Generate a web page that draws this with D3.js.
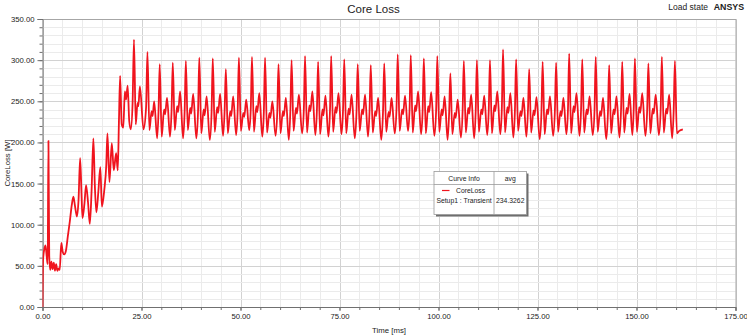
<!DOCTYPE html>
<html>
<head>
<meta charset="utf-8">
<script src="https://cdn.jsdelivr.net/npm/d3@7"></script>
<style>
body { margin: 0; background: #fff; }
text { font-family: "Liberation Sans", Arial, sans-serif; fill: #222; }
</style>
</head>
<body>
<div id="chart"></div>
<script>
// Axis ticks
const xMajorTicks = [0, 25, 50, 75, 100, 125, 150, 175];
const yMajorTicks = [0, 50, 100, 150, 200, 250, 300, 350];

// Core loss [W] vs time [ms]
// start-up part (0 - 23 ms)
const transientPts = [
  [0, 0], [0.15, 58], [0.45, 70], [0.75, 75], [1.05, 62], [1.3, 52], [1.5, 202], [1.7, 62],
  [1.95, 45], [2.25, 55], [2.55, 46], [2.85, 54], [3.15, 44], [3.45, 52], [3.75, 44], [4.05, 47],
  [4.35, 45], [4.75, 78], [5.1, 67], [5.5, 64], [5.9, 68], [6.4, 86], [6.9, 104], [7.4, 124],
  [7.8, 134], [8.2, 123], [8.7, 110], [9.1, 130], [9.5, 181], [9.85, 138], [10.1, 108], [10.6, 126],
  [11.0, 148], [11.5, 127], [11.95, 101], [12.4, 142], [12.85, 205], [13.2, 150], [13.6, 115],
  [14.1, 140], [14.6, 170], [15.0, 122], [15.6, 142], [16.1, 172], [16.4, 211], [16.9, 152],
  [17.5, 199], [18.0, 166], [18.6, 187], [19.0, 166], [19.3, 225], [19.6, 281], [20.0, 222],
  [20.4, 218], [20.8, 262], [21.1, 252], [21.5, 269], [21.9, 226], [22.3, 216], [22.75, 248]
];

// periodic part (one row per big peak)
const steadyPts = [
  [23.1, 325], [23.55, 222], [24.0, 248], [24.2, 244], [24.6, 268], [25.5, 216], [26.15, 242],
  [26.5, 310], [27.0, 215], [27.55, 238], [27.8, 232], [28.2, 250], [28.95, 205], [29.3, 238],
  [29.6, 295], [30.1, 207], [30.7, 240], [30.95, 234], [31.45, 254], [32.2, 207], [32.6, 240],
  [32.9, 297], [33.4, 215], [34.0, 244], [34.25, 237], [34.75, 262], [35.5, 205], [35.9, 239],
  [36.2, 299], [36.7, 215], [37.3, 242], [37.55, 235], [38.05, 259], [38.85, 205], [39.3, 241],
  [39.6, 303], [40.1, 211], [40.7, 240], [40.95, 233], [41.45, 256], [42.25, 203], [42.7, 238],
  [43.0, 302], [43.5, 213], [44.1, 243], [44.35, 236], [44.85, 259], [45.6, 208], [46.0, 240],
  [46.3, 289], [46.8, 211], [47.4, 238], [47.65, 232], [48.15, 256], [48.9, 209], [49.3, 241],
  [49.6, 303], [50.1, 214], [50.7, 236], [50.95, 231], [51.45, 252], [52.2, 215], [52.6, 242],
  [52.9, 304], [53.4, 213], [54.0, 244], [54.25, 237], [54.75, 260], [55.5, 207], [55.9, 238],
  [56.2, 303], [56.7, 212], [57.3, 236], [57.55, 230], [58.05, 250], [58.85, 208], [59.3, 239],
  [59.6, 295], [60.1, 211], [60.7, 238], [60.95, 232], [61.45, 254], [62.2, 203], [62.6, 240],
  [62.9, 300], [63.4, 214], [64.0, 242], [64.25, 235], [64.75, 258], [65.55, 211], [66.0, 241],
  [66.3, 305], [66.8, 212], [67.4, 245], [67.65, 238], [68.15, 262], [68.9, 209], [69.3, 240],
  [69.6, 298], [70.1, 210], [70.7, 240], [70.95, 233], [71.45, 257], [72.2, 207], [72.6, 239],
  [72.9, 305], [73.4, 213], [74.0, 243], [74.25, 236], [74.75, 260], [75.5, 210], [75.9, 241],
  [76.2, 301], [76.7, 211], [77.3, 241], [77.55, 234], [78.05, 258], [78.85, 205], [79.3, 238],
  [79.6, 295], [80.1, 214], [80.7, 240], [80.95, 234], [81.45, 258], [82.2, 207], [82.6, 240],
  [82.9, 294], [83.4, 212], [84.0, 238], [84.25, 232], [84.75, 254], [85.55, 203], [86.0, 239],
  [86.3, 296], [86.8, 213], [87.4, 237], [87.65, 231], [88.15, 254], [88.95, 211], [89.4, 242],
  [89.7, 307], [90.2, 214], [90.8, 240], [91.05, 234], [91.55, 257], [92.3, 214], [92.7, 241],
  [93.0, 306], [93.5, 212], [94.1, 245], [94.35, 238], [94.85, 262], [95.6, 210], [96.0, 240],
  [96.3, 302], [96.8, 211], [97.4, 244], [97.65, 237], [98.15, 261], [98.95, 208], [99.4, 239],
  [99.7, 305], [100.2, 213], [100.8, 240], [101.05, 233], [101.55, 256], [102.3, 203], [102.7, 238],
  [103.0, 284], [103.5, 210], [104.1, 236], [104.35, 230], [104.85, 252], [105.65, 206], [106.1, 240],
  [106.4, 299], [106.9, 212], [107.5, 242], [107.75, 235], [108.25, 258], [109.0, 205], [109.4, 239],
  [109.7, 300], [110.2, 213], [110.8, 240], [111.05, 234], [111.55, 257], [112.3, 209], [112.7, 241],
  [113.0, 300], [113.5, 211], [114.1, 245], [114.35, 238], [114.85, 262], [115.6, 210], [116.0, 242],
  [116.3, 313], [116.8, 212], [117.4, 243], [117.65, 236], [118.15, 260], [118.9, 206], [119.3, 239],
  [119.6, 301], [120.1, 214], [120.7, 238], [120.95, 232], [121.45, 254], [122.2, 207], [122.6, 240],
  [122.9, 289], [123.4, 212], [124.0, 239], [124.25, 233], [124.75, 255], [125.55, 204], [126.0, 238],
  [126.3, 298], [126.8, 210], [127.4, 240], [127.65, 234], [128.15, 256], [128.95, 208], [129.4, 240],
  [129.7, 297], [130.2, 213], [130.8, 238], [131.05, 232], [131.55, 254], [132.3, 210], [132.7, 241],
  [133.0, 308], [133.5, 211], [134.1, 244], [134.35, 237], [134.85, 260], [135.6, 208], [136.0, 240],
  [136.3, 301], [136.8, 212], [137.4, 240], [137.65, 234], [138.15, 256], [138.95, 209], [139.4, 239],
  [139.7, 304], [140.2, 213], [140.8, 238], [141.05, 232], [141.55, 254], [142.35, 204], [142.8, 238],
  [143.1, 294], [143.6, 211], [144.2, 240], [144.45, 234], [144.95, 256], [145.7, 206], [146.1, 240],
  [146.4, 298], [146.9, 212], [147.5, 242], [147.75, 235], [148.25, 259], [148.95, 209], [149.3, 241],
  [149.6, 302], [150.1, 213], [150.7, 243], [150.95, 236], [151.45, 260], [152.25, 208], [152.7, 240],
  [153.0, 296], [153.5, 211], [154.1, 241], [154.35, 235], [154.85, 258], [155.65, 209], [156.1, 239],
  [156.4, 304], [156.9, 212], [157.5, 241], [157.75, 235], [158.25, 258], [159.0, 205], [159.4, 240],
  [159.7, 299], [160.2, 211], [160.8, 214], [161.7, 216]
];

// Legend contents
const legendHeader = ["Curve Info", "avg"];
const legendRows = [{ name: "CoreLoss", setup: "Setup1 : Transient", avg: "234.3262" }];

const width = 747;
const height = 335;
const plotLeft = 42.5, plotRight = 735.5, plotTop = 19, plotBottom = 307;

const svg = d3.select("#chart")
  .append("svg")
  .attr("width", width)
  .attr("height", height);

svg.append("rect").attr("width", width).attr("height", height).attr("fill", "#fff");

const x = d3.scaleLinear().domain([0, 175]).range([plotLeft, plotRight]);
const y = d3.scaleLinear().domain([0, 350]).range([plotBottom, plotTop]);

const xMinor = d3.range(0, 175.01, 5);
const yMinor = d3.range(0, 350.01, 10);

// grid lines
svg.append("g")
  .selectAll("line")
  .data(xMinor)
  .join("line")
  .attr("x1", d => Math.round(x(d)) + 0.5).attr("x2", d => Math.round(x(d)) + 0.5)
  .attr("y1", plotTop).attr("y2", plotBottom)
  .attr("stroke", d => d % 25 === 0 ? "#d2d2d2" : "#ebebeb")
  .attr("stroke-width", 1);

svg.append("g")
  .selectAll("line")
  .data(yMinor)
  .join("line")
  .attr("y1", d => Math.round(y(d)) + 0.5).attr("y2", d => Math.round(y(d)) + 0.5)
  .attr("x1", plotLeft).attr("x2", plotRight)
  .attr("stroke", d => d % 50 === 0 ? "#d2d2d2" : "#ebebeb")
  .attr("stroke-width", 1);

// plot frame (top + right)
svg.append("path")
  .attr("d", `M${plotLeft},${plotTop + 0.5}H${plotRight + 0.5}V${plotBottom}`)
  .attr("fill", "none")
  .attr("stroke", "#a6a6a6");

// axes
const fmt = d3.format(".2f");

svg.append("g")
  .attr("transform", `translate(${plotLeft},0)`)
  .call(d3.axisLeft(y).tickValues(yMajorTicks).tickFormat(fmt).tickSize(5).tickPadding(3));
svg.append("g")
  .attr("transform", `translate(${plotLeft},0)`)
  .call(d3.axisLeft(y).tickValues(yMinor).tickFormat("").tickSize(3).tickSizeOuter(0))
  .select(".domain").remove();

svg.append("g")
  .attr("transform", `translate(0,${plotBottom})`)
  .call(d3.axisBottom(x).tickValues(xMajorTicks).tickFormat(fmt).tickSize(4).tickPadding(3));
svg.append("g")
  .attr("transform", `translate(0,${plotBottom})`)
  .call(d3.axisBottom(x).tickValues(xMinor).tickFormat("").tickSize(3).tickSizeOuter(0))
  .select(".domain").remove();

svg.selectAll(".tick line").attr("stroke", "#707070");
svg.selectAll(".domain").attr("stroke", "#707070");
svg.selectAll(".tick text")
  .style("font-size", "7.7px")
  .style("font-family", "'Liberation Sans', Arial, sans-serif")
  .attr("fill", "#222");

// the curve
svg.append("defs").append("clipPath").attr("id", "plotClip")
  .append("rect")
  .attr("x", plotLeft).attr("y", plotTop)
  .attr("width", plotRight - plotLeft).attr("height", plotBottom - plotTop);

const line = d3.line()
  .x(d => x(d[0]))
  .y(d => y(d[1]))
  .curve(d3.curveMonotoneX);

svg.append("path")
  .datum(transientPts.concat(steadyPts))
  .attr("clip-path", "url(#plotClip)")
  .attr("d", line)
  .attr("fill", "none")
  .attr("stroke", "#f0141e")
  .attr("stroke-width", 1.8)
  .attr("stroke-linejoin", "round");

// titles
svg.append("text")
  .attr("x", 373.5).attr("y", 13)
  .attr("text-anchor", "middle")
  .style("font-size", "11.5px")
  .text("Core Loss");

svg.append("text")
  .attr("x", 708).attr("y", 10)
  .attr("text-anchor", "end")
  .style("font-size", "8.5px")
  .text("Load state");

svg.append("text")
  .attr("x", 744).attr("y", 10)
  .attr("text-anchor", "end")
  .style("font-size", "8.8px")
  .style("font-weight", "bold")
  .attr("fill", "#333")
  .text("ANSYS");

svg.append("text")
  .attr("x", (plotLeft + plotRight) / 2).attr("y", 333)
  .attr("text-anchor", "middle")
  .style("font-size", "7.8px")
  .text("Time [ms]");

svg.append("text")
  .attr("transform", `translate(9.5,${(plotTop + plotBottom) / 2}) rotate(-90)`)
  .attr("text-anchor", "middle")
  .style("font-size", "7.8px")
  .text("CoreLoss [W]");

// legend box
const lg = svg.append("g").attr("transform", "translate(434,171.5)");
const lgW = 92.5, lgH = 43, colSplit = 60, headH = 13, fs = "6.8px";

lg.append("rect").attr("x", 2).attr("y", 2).attr("width", lgW).attr("height", lgH).attr("fill", "#6e6e6e");
lg.append("rect").attr("width", lgW).attr("height", lgH).attr("fill", "#fff").attr("stroke", "#9a9a9a").attr("stroke-width", 0.8);
lg.append("line").attr("x1", 0).attr("x2", lgW).attr("y1", headH).attr("y2", headH).attr("stroke", "#9a9a9a").attr("stroke-width", 0.8);
lg.append("line").attr("x1", colSplit).attr("x2", colSplit).attr("y1", 0).attr("y2", lgH).attr("stroke", "#9a9a9a").attr("stroke-width", 0.8);

lg.selectAll("text.head")
  .data(legendHeader)
  .join("text")
  .attr("class", "head")
  .attr("x", (d, i) => i === 0 ? colSplit / 2 : (colSplit + lgW) / 2)
  .attr("y", 9.3)
  .attr("text-anchor", "middle")
  .style("font-size", fs)
  .text(d => d);

legendRows.forEach((r, i) => {
  const top = headH + i * 30;
  lg.append("line")
    .attr("x1", 8).attr("x2", 15.5)
    .attr("y1", top + 6).attr("y2", top + 6)
    .attr("stroke", "#f0141e").attr("stroke-width", 1.2);
  lg.append("text").attr("x", 22).attr("y", top + 8.6).style("font-size", fs).text(r.name);
  lg.append("text").attr("x", colSplit / 2).attr("y", top + 18).attr("text-anchor", "middle").style("font-size", fs).text(r.setup);
  lg.append("text").attr("x", (colSplit + lgW) / 2).attr("y", top + 18).attr("text-anchor", "middle").style("font-size", fs).text(r.avg);
});
</script>
</body>
</html>
